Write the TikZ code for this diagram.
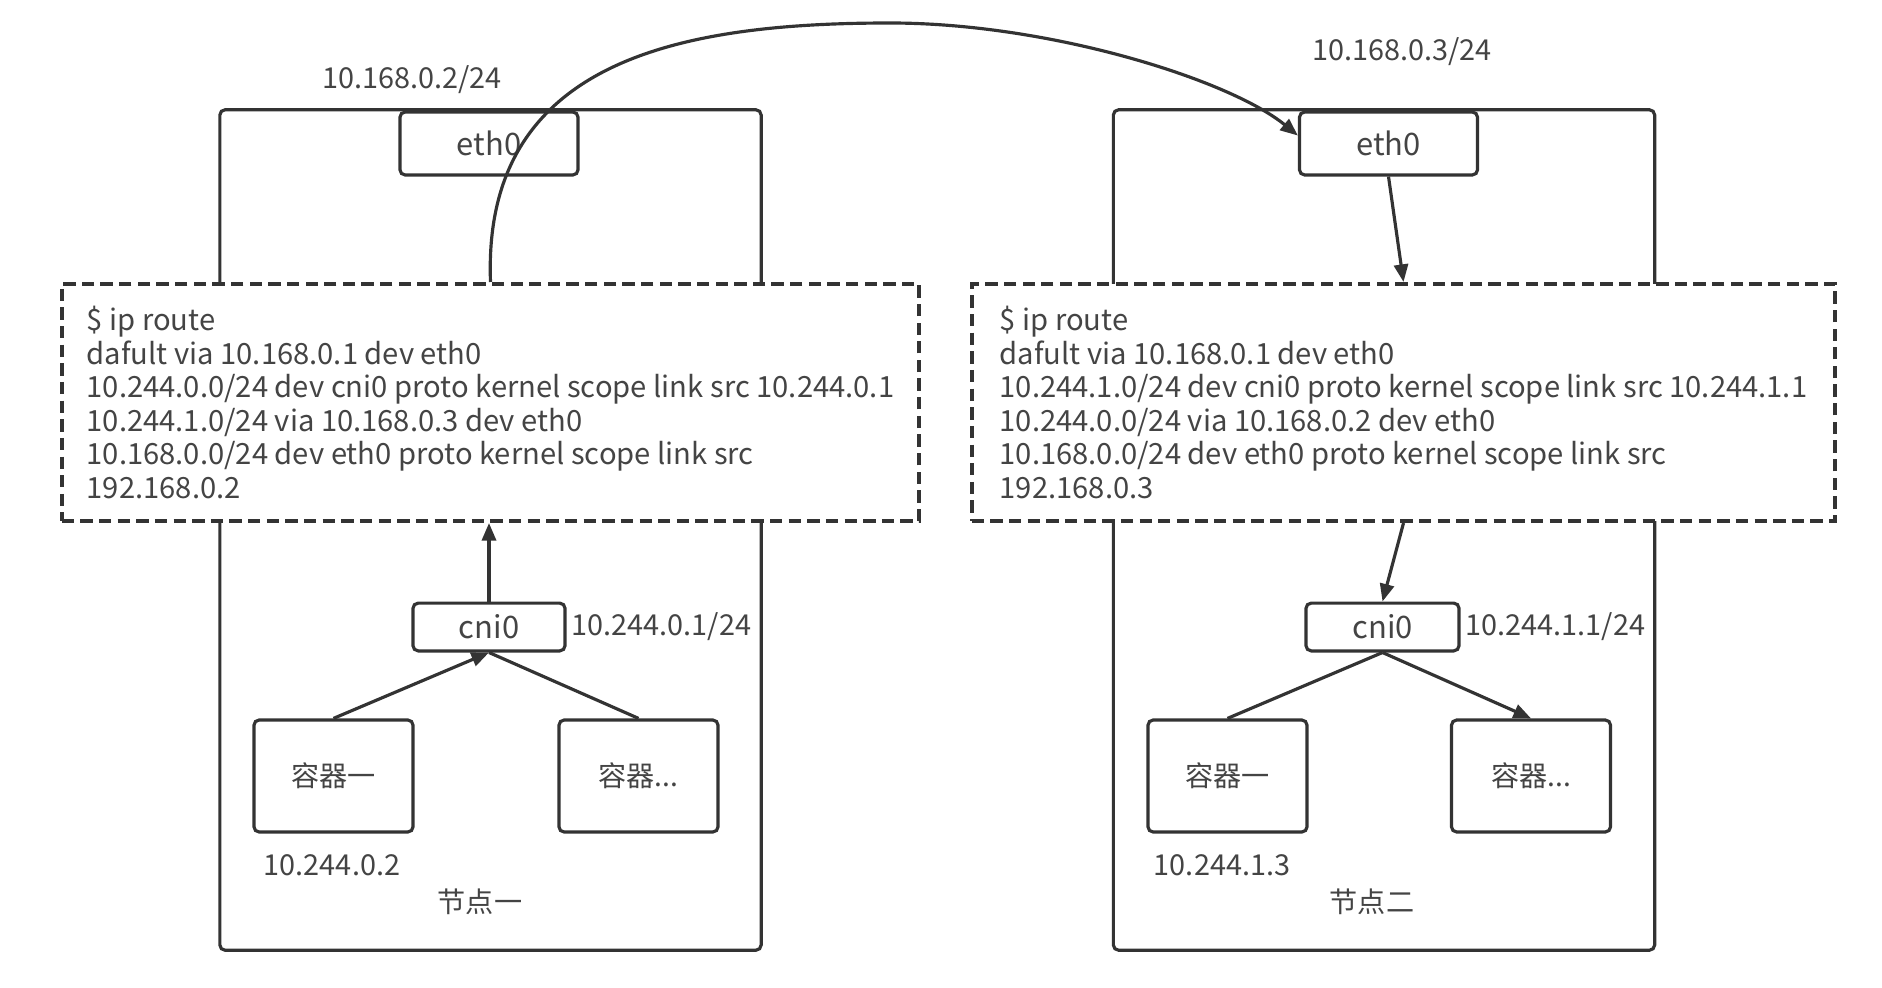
\documentclass[tikz,border=0pt]{standalone}
\usepackage{fontspec}
\setmainfont{Noto Sans CJK SC}
\usetikzlibrary{arrows.meta}
\definecolor{linegray}{HTML}{333333}
\definecolor{textgray}{HTML}{444444}
\begin{document}
\begin{tikzpicture}[x=0.01cm, y=-0.01cm, line width=0.9pt, color=linegray, text=textgray,
    hostbox/.style={draw, rounded corners=1.5pt, minimum width=5.41cm, minimum height=8.4cm},
    ifbox/.style={draw, fill=white, rounded corners=1.5pt, font=\fontsize{8.8}{10}\selectfont},
    podbox/.style={draw, fill=white, rounded corners=1.5pt, minimum width=1.59cm, minimum height=1.12cm, font=\fontsize{8}{9}\selectfont},
    routebox/.style={draw, fill=white, line width=1.1pt, dash pattern=on 3.5pt off 1.8pt, minimum height=2.37cm, inner xsep=2pt, align=left, font=\fontsize{8.3}{9.5}\selectfont},
    lbl/.style={font=\fontsize{8.2}{10}\selectfont},
    flow/.style={-{Triangle[length=5pt,width=4pt]}}]
  \useasboundingbox (0,0) rectangle (1882,988);
  % node one
  \node[hostbox] (host1) at (490.5,530) {};
  \node[ifbox, minimum width=1.78cm, minimum height=0.63cm] (eth1) at (489,143.5) {eth0};
  \node[routebox, minimum width=8.57cm] (rt1) at (490.5,402.5) {\$ ip route\\dafult via 10.168.0.1 dev eth0\\10.244.0.0/24 dev cni0 proto kernel scope link src 10.244.0.1\\10.244.1.0/24 via 10.168.0.3 dev eth0\\10.168.0.0/24 dev eth0 proto kernel scope link src\\192.168.0.2};
  \node[ifbox, minimum width=1.52cm, minimum height=0.44cm] (cni1) at (489,627) {cni0};
  \node[podbox] (pod11) at (333.5,776) {容器一};
  \node[podbox] (pod12) at (638.5,776) {容器...};
  \node[lbl] at (412,80) {10.168.0.2/24};
  \node[lbl, anchor=west, inner sep=1pt] at (cni1.east) {10.244.0.1/24};
  \node[lbl] at (332,865) {10.244.0.2};
  \node[font=\fontsize{8}{9}\selectfont] at (480,902) {节点一};
  % node two
  \node[hostbox] (host2) at (1384,530) {};
  \node[ifbox, minimum width=1.78cm, minimum height=0.63cm] (eth2) at (1388.5,143.5) {eth0};
  \node[routebox, minimum width=8.63cm] (rt2) at (1403.5,402.5) {\$ ip route\\dafult via 10.168.0.1 dev eth0\\10.244.1.0/24 dev cni0 proto kernel scope link src 10.244.1.1\\10.244.0.0/24 via 10.168.0.2 dev eth0\\10.168.0.0/24 dev eth0 proto kernel scope link src\\192.168.0.3};
  \node[ifbox, minimum width=1.53cm, minimum height=0.44cm] (cni2) at (1382.5,627) {cni0};
  \node[podbox] (pod21) at (1227.5,776) {容器一};
  \node[podbox] (pod22) at (1531,776) {容器...};
  \node[lbl] at (1402,52) {10.168.0.3/24};
  \node[lbl, anchor=west, inner sep=1pt] at (cni2.east) {10.244.1.1/24};
  \node[lbl] at (1222,865) {10.244.1.3};
  \node[font=\fontsize{8}{9}\selectfont] at (1372,902) {节点二};
  % links
  \draw[flow] (pod11.north) -- (cni1.south);
  \draw (cni1.south) -- (pod12.north);
  \draw[flow] (cni1.north) -- (cni1.north |- rt1.south);
  \draw[flow] (eth2.south) -- (rt2.north);
  \draw[flow] (rt2.south) -- (cni2.north);
  \draw (cni2.south) -- (pod21.north);
  \draw[flow] (cni2.south) -- (pod22.north);
  \coordinate (top) at (890,23);
  \draw[flow] (rt1.north) .. controls (482,60) and (680,23) .. (top)
    .. controls (1050,23) and (1230,80) .. (eth2.175);
\end{tikzpicture}
\end{document}
